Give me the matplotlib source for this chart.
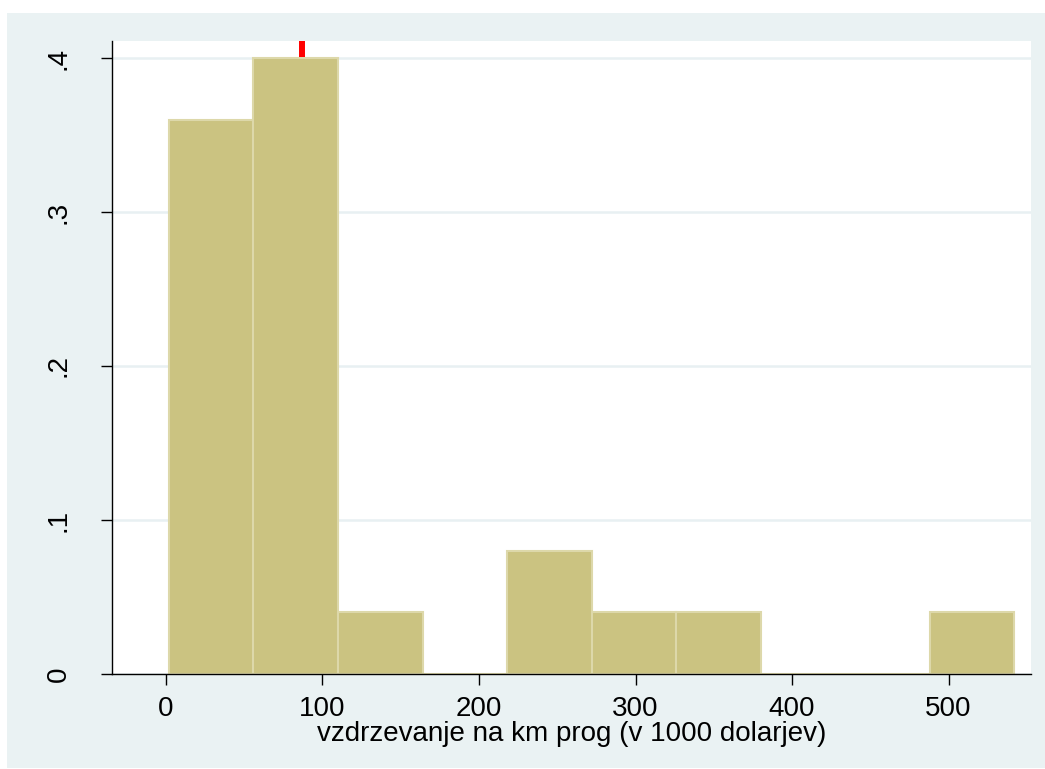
import numpy as np
import matplotlib.pyplot as plt
from matplotlib.patches import Rectangle

# histogram: fraction per bin
bin_start = 1.9
bin_width = 54.0
fractions = [0.36, 0.40, 0.04, 0.0, 0.08, 0.04, 0.04, 0.0, 0.0, 0.04]
marker_x = 86.9
xticks = [0, 100, 200, 300, 400, 500]
yticks = [0, 0.1, 0.2, 0.3, 0.4]
ytick_labels = ['0', '.1', '.2', '.3', '.4']
xlabel = 'vzdrzevanje na km prog (v 1000 dolarjev)'

plt.rcParams['font.family'] = ['Liberation Sans', 'DejaVu Sans']

fig = plt.figure(figsize=(10.45, 7.69), dpi=100)
fig.patch.set_facecolor('white')
# stata-like grey-blue outer panel
panel = Rectangle((7 / 1045, 1 / 769), 1038 / 1045, 755 / 769,
                  transform=fig.transFigure, facecolor='#EAF2F3',
                  edgecolor='none', zorder=-10)
fig.add_artist(panel)

ax = fig.add_axes([112 / 1045, (769 - 674) / 769, (1031 - 112) / 1045, (674 - 41) / 769])
ax.set_zorder(1)
ax.set_facecolor('white')

lefts = bin_start + bin_width * np.arange(len(fractions))
ax.bar(lefts, fractions, width=bin_width, align='edge',
       color='#CBC381', edgecolor='#DDD8AA', linewidth=1.5, zorder=2)

ax.plot([marker_x, marker_x], [0.4005, 0.411], color='red', lw=4.3,
        solid_capstyle='butt', zorder=3)

ax.set_xlim(-34.5, 552.7)
ax.set_ylim(0, 0.411)

ax.set_xticks(xticks)
ax.set_yticks(yticks)
ax.set_yticklabels(ytick_labels, rotation=90, va='center')
ax.tick_params(axis='both', direction='out', length=8, width=1, labelsize=20,
               colors='black')
ax.tick_params(axis='x', pad=8)
ax.tick_params(axis='y', pad=21)

ax.grid(axis='y', color='#E8F0F2', linewidth=1.8, zorder=1)
ax.set_axisbelow(True)

for s in ['top', 'right']:
    ax.spines[s].set_visible(False)
ax.spines['left'].set_linewidth(1.0)
ax.spines['bottom'].set_linewidth(1.0)

ax.set_xlabel(xlabel, fontsize=20, labelpad=-1)

fig.savefig('out.png', dpi=100)
